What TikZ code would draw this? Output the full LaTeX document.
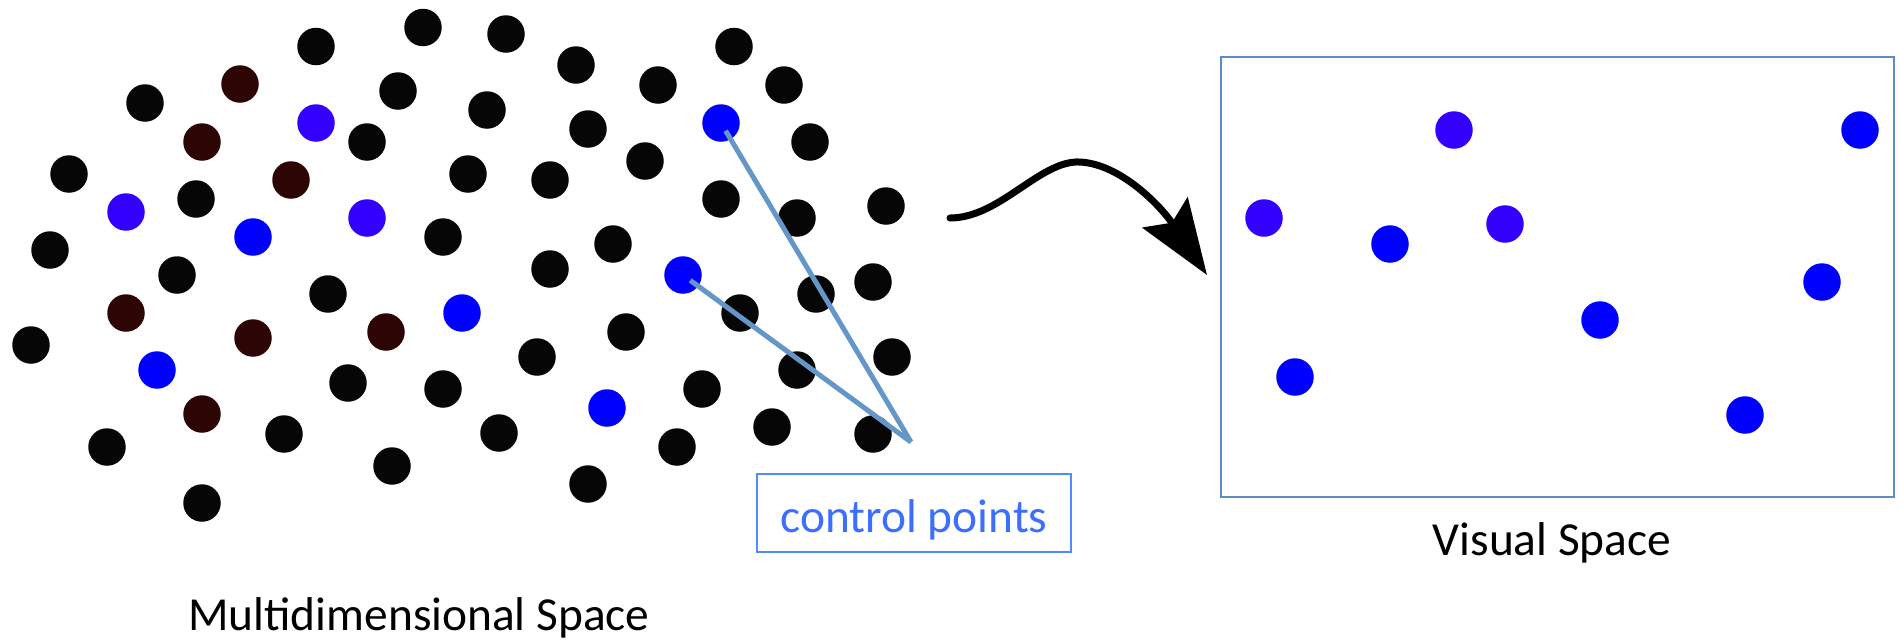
\documentclass[tikz,border=0pt]{standalone}
\usepackage{fontspec}
\setmainfont{Carlito}
\usetikzlibrary{arrows.meta}
\definecolor{dotblack}{RGB}{6,6,6}
\definecolor{dotbrown}{RGB}{46,5,5}
\definecolor{dotviolet}{RGB}{51,0,255}
\definecolor{dotblue}{RGB}{0,0,255}
\definecolor{cptext}{RGB}{60,110,255}
\definecolor{cpframe}{RGB}{80,140,255}
\definecolor{cpline}{RGB}{100,150,200}
\definecolor{vsframe}{RGB}{91,140,200}
\begin{document}
\begin{tikzpicture}[x=1pt,y=-1pt,
  dot/.style={circle,minimum size=37.5pt,inner sep=0pt,outer sep=0pt},
  kd/.style={dot,fill=dotblack},
  bd/.style={dot,fill=dotbrown},
  vd/.style={dot,fill=dotviolet},
  ud/.style={dot,fill=dotblue},
  lbl/.style={font=\fontsize{47.4}{56}\selectfont,anchor=base,inner sep=0pt},
  cpbox/.style={draw=cpframe,line width=2.5pt,minimum width=314pt,minimum height=78pt,
    text=cptext,font=\fontsize{47.4}{56}\selectfont,text height=38pt,text depth=0pt,inner sep=0pt},
  cpconn/.style={draw=cpline,line width=5pt,shorten <=9pt},
  vsbox/.style={draw=vsframe,line width=2.5pt,minimum width=673pt,minimum height=440pt,inner sep=0pt},
  maparrow/.style={line width=7pt,line cap=round,-{Stealth[length=75pt,width=54pt,inset=12pt]}}
]
\useasboundingbox (0,0) rectangle (1899,641);
% left cluster: black dots
\node[kd] (k1) at (423,27.5) {};
\node[kd] (k2) at (316,46.5) {};
\node[kd] (k3) at (398,91) {};
\node[kd] (k4) at (145,103) {};
\node[kd] (k5) at (367,142) {};
\node[kd] (k6) at (69,174) {};
\node[kd] (k7) at (468,174) {};
\node[kd] (k8) at (196,199) {};
\node[kd] (k9) at (443,237) {};
\node[kd] (k10) at (50,250) {};
\node[kd] (k11) at (177,275) {};
\node[kd] (k12) at (328,294) {};
\node[kd] (k13) at (31,345) {};
\node[kd] (k14) at (348,383) {};
\node[kd] (k15) at (443,389) {};
\node[kd] (k16) at (107,447) {};
\node[kd] (k17) at (284,434) {};
\node[kd] (k18) at (392,466) {};
\node[kd] (k19) at (202,503) {};
\node[kd] (k20) at (506,34) {};
\node[kd] (k21) at (576,65) {};
\node[kd] (k22) at (487,110) {};
\node[kd] (k23) at (658,85) {};
\node[kd] (k24) at (734,46.5) {};
\node[kd] (k25) at (784,85) {};
\node[kd] (k26) at (588,129) {};
\node[kd] (k27) at (810,142) {};
\node[kd] (k28) at (550,180) {};
\node[kd] (k29) at (645,161) {};
\node[kd] (k30) at (721,199) {};
\node[kd] (k31) at (797,218) {};
\node[kd] (k32) at (886,206) {};
\node[kd] (k33) at (613,244) {};
\node[kd] (k34) at (550,269) {};
\node[kd] (k35) at (816,294) {};
\node[kd] (k36) at (873,282) {};
\node[kd] (k37) at (740,313) {};
\node[kd] (k38) at (626,332) {};
\node[kd] (k39) at (537,357) {};
\node[kd] (k40) at (797,370) {};
\node[kd] (k41) at (892,357) {};
\node[kd] (k42) at (702,389) {};
\node[kd] (k43) at (499,433) {};
\node[kd] (k44) at (677,447) {};
\node[kd] (k45) at (772,427) {};
\node[kd] (k46) at (873,434) {};
\node[kd] (k47) at (588,484) {};
% brown dots
\node[bd] (b1) at (240,84) {};
\node[bd] (b2) at (202,142) {};
\node[bd] (b3) at (291,180) {};
\node[bd] (b4) at (126,313) {};
\node[bd] (b5) at (253,338) {};
\node[bd] (b6) at (386,332) {};
\node[bd] (b7) at (202,414) {};
% violet and blue dots
\node[vd] (v1) at (316,123) {};
\node[vd] (v2) at (126,212) {};
\node[vd] (v3) at (367,218) {};
\node[ud] (u1) at (253,237) {};
\node[ud] (u2) at (462,313) {};
\node[ud] (u3) at (157,370) {};
\node[ud] (u4) at (607,408) {};
\node[ud] (c1) at (721,123) {};
\node[ud] (c2) at (683,275) {};
% control points callout
\coordinate (cptip) at (911,442);
\draw[cpconn] (c1.center) -- (cptip);
\draw[cpconn] (c2.center) -- (cptip);
\node[cpbox] (cp) at (914,513) {control points};
% label left
\node[lbl] (mdlabel) at (419,630) {Multidimensional Space};
% visual space
\node[vsbox] (vbox) at (1557.5,277) {};
\node[vd] (w1) at (1454,130) {};
\node[ud] (w2) at (1860,130) {};
\node[vd] (w3) at (1264,218) {};
\node[ud] (w4) at (1390,244) {};
\node[vd] (w5) at (1505,224) {};
\node[ud] (w6) at (1822,282) {};
\node[ud] (w7) at (1600,320) {};
\node[ud] (w8) at (1295,377) {};
\node[ud] (w9) at (1745,415) {};
\node[lbl] (vslabel) at (1552,555) {Visual Space};
% mapping arrow
\coordinate (astart) at (950,218);
\coordinate (atip) at (1207,275);
\draw[maparrow] (astart) .. controls (1000,218) and (1040,160) .. (1080,162)
  .. controls (1120,164) and (1160,205) .. (atip);
\end{tikzpicture}
\end{document}
